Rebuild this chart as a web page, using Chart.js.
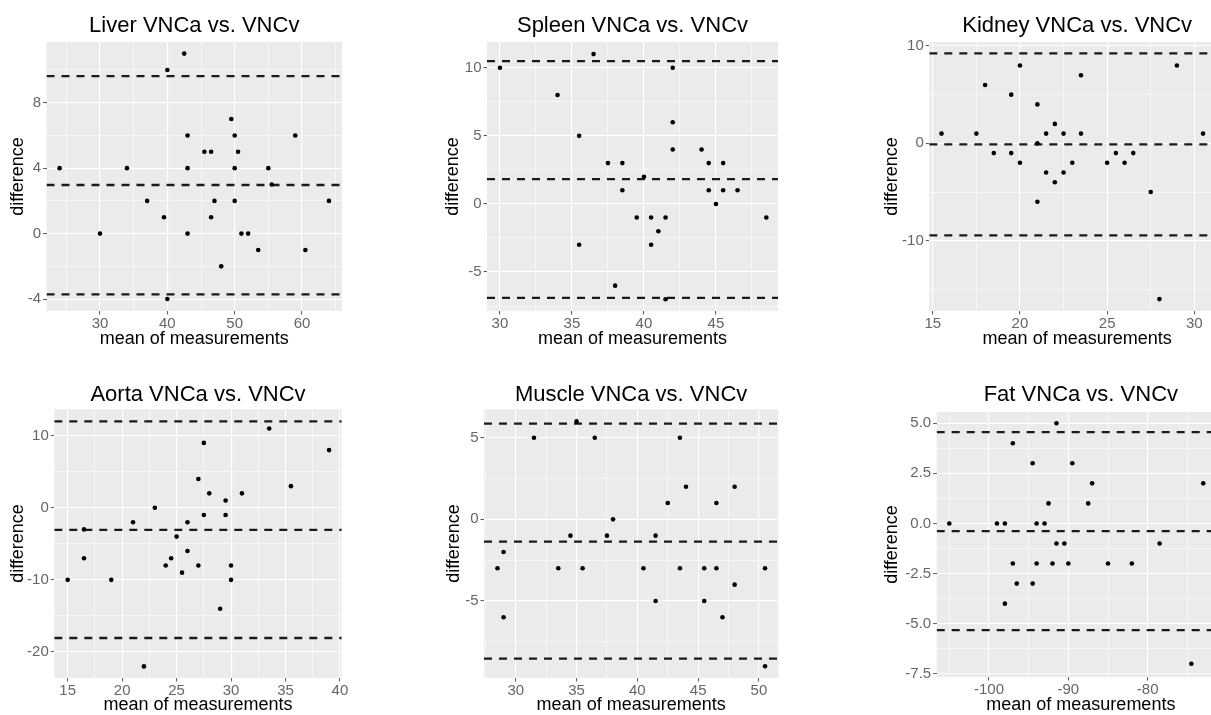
<!DOCTYPE html>
<html><head><meta charset="utf-8">
<script src="https://cdn.jsdelivr.net/npm/chart.js@4.4.1/dist/chart.umd.min.js"></script>
<style>
html,body{margin:0;padding:0;background:#fff;overflow:hidden;width:1211px;height:715px;position:relative;}
canvas{position:absolute;}
</style></head><body>
<canvas id="c1"></canvas><canvas id="c2"></canvas><canvas id="c3"></canvas>
<canvas id="c4"></canvas><canvas id="c5"></canvas><canvas id="c6"></canvas>
<script>
// ---------- data ----------
const liverX = [24,30,34,37,39.5,40,40,42.5,43,43,43,45.5,46.5,46.5,47,48,49.5,50,50,50,50.5,51,52,53.5,55,55.5,59,60.5,64];
const liverY = [4,0,4,2,1,10,-4,11,6,4,0,5,5,1,2,-2,7,6,4,2,5,0,0,-1,4,3,6,-1,2];
const liverLines = [9.63, 2.97, -3.71];
const liverXTicks = [30,40,50,60];
const liverYTicks = [-4,0,4,8];

const spleenX = [30,34,35.5,35.5,36.5,37.5,38,38.5,38.5,39.5,40,40.5,40.5,41,41.5,41.5,42,42,42,44,44.5,44.5,45,45.5,45.5,46.5,48.5];
const spleenY = [10,8,5,-3,11,3,-6,3,1,-1,2,-1,-3,-2,-1,-7,10,6,4,4,3,1,0,3,1,1,-1];
const spleenLines = [10.49, 1.82, -6.89];
const spleenXTicks = [30,35,40,45];
const spleenYTicks = [-5,0,5,10];

const kidneyX = [15.5,17.5,18,18.5,19.5,19.5,20,20,21,21,21,21.5,21.5,22,22,22.5,22.5,23,23.5,23.5,25,25.5,26,26.5,27.5,28,29,30.5];
const kidneyY = [1,1,6,-1,5,-1,8,-2,4,0,-6,1,-3,2,-4,1,-3,-2,7,1,-2,-1,-2,-1,-5,-16,8,1];
const kidneyLines = [9.25, -0.1, -9.45];
const kidneyXTicks = [15,20,25,30];
const kidneyYTicks = [-10,0,10];

const aortaX = [15,16.5,16.5,19,21,22,23,24,24.5,25,25.5,26,26,27,27,27.5,27.5,28,29,29.5,29.5,30,30,31,33.5,35.5,39];
const aortaY = [-10,-3,-7,-10,-2,-22,0,-8,-7,-4,-9,-2,-6,4,-8,9,-1,2,-14,1,-1,-8,-10,2,11,3,8];
const aortaLines = [11.99, -3.06, -18.06];
const aortaXTicks = [15,20,25,30,35,40];
const aortaYTicks = [-20,-10,0,10];

const muscleX = [28.5,29,29,31.5,33.5,34.5,35,35.5,36.5,37.5,38,40.5,41.5,41.5,42.5,43.5,43.5,44,45.5,45.5,46.5,46.5,47,48,48,50.5,50.5];
const muscleY = [-3,-2,-6,5,-3,-1,6,-3,5,-1,0,-3,-1,-5,1,5,-3,2,-3,-5,1,-3,-6,2,-4,-3,-9];
const muscleLines = [5.86, -1.37, -8.53];
const muscleXTicks = [30,35,40,45,50];
const muscleYTicks = [-5,0,5];

const fatX = [-105,-99,-98,-98,-97,-97,-96.5,-94.5,-94.5,-94,-94,-93,-92.5,-92,-91.5,-91.5,-90.5,-90,-89.5,-87.5,-87,-85,-82,-78.5,-74.5,-73];
const fatY = [0,0,0,-4,4,-2,-3,3,-3,0,-2,0,1,-2,5,-1,-1,-2,3,1,2,-2,-2,-1,-7,2];
const fatLines = [4.56, -0.38, -5.32];
const fatXTicks = [-100,-90,-80];
const fatYTicks = [-7.5,-5,-2.5,0,2.5,5];

const titles = ['Liver VNCa vs. VNCv','Spleen VNCa vs. VNCv','Kidney VNCa vs. VNCv','Aorta VNCa vs. VNCv','Muscle VNCa vs. VNCv','Fat VNCa vs. VNCv'];

// ---------- layout (pixels) ----------
const panels = [
 {id:'c1', title:titles[0], xs:liverX, ys:liverY, lines:liverLines, xt:liverXTicks, yt:liverYTicks, xr:[22.05,65.94], yr:[-4.73,11.71], dec:0,
  left:0, top:0, w:354, h:350, padR:12, yw:46.5, yTitlePad:7, plotTop:42, plotBottom:311, titlePadTop:13.2, xTitlePadB:0.5},
 {id:'c2', title:titles[1], xs:spleenX, ys:spleenY, lines:spleenLines, xt:spleenXTicks, yt:spleenYTicks, xr:[29.10,49.31], yr:[-7.86,11.89], dec:0,
  left:440, top:0, w:350, h:350, padR:12, yw:47, yTitlePad:2.5, plotTop:42, plotBottom:311, titlePadTop:13.2, xTitlePadB:0.5},
 {id:'c3', title:titles[2], xs:kidneyX, ys:kidneyY, lines:kidneyLines, xt:kidneyXTicks, yt:kidneyYTicks, xr:[14.8,31.76], yr:[-17.22,10.41], dec:0,
  left:870, top:0, w:367, h:350, padR:12, yw:59.3, yTitlePad:10.9, plotTop:42, plotBottom:311, titlePadTop:13.2, xTitlePadB:0.5},
 {id:'c4', title:titles[3], xs:aortaX, ys:aortaY, lines:aortaLines, xt:aortaXTicks, yt:aortaYTicks, xr:[13.77,40.16], yr:[-23.61,13.70], dec:0,
  left:0, top:367, w:354, h:348, padR:12.3, yw:54.3, yTitlePad:7.5, plotTop:42, plotBottom:311, titlePadTop:14.3, xTitlePadB:-1},
 {id:'c5', title:titles[4], xs:muscleX, ys:muscleY, lines:muscleLines, xt:muscleXTicks, yt:muscleYTicks, xr:[27.39,51.59], yr:[-9.72,6.76], dec:0,
  left:440, top:367, w:351, h:348, padR:12.7, yw:44, yTitlePad:3.5, plotTop:42, plotBottom:311, titlePadTop:14.3, xTitlePadB:-1},
 {id:'c6', title:titles[5], xs:fatX, ys:fatY, lines:fatLines, xt:fatXTicks, yt:fatYTicks, xr:[-106.59,-70.26], yr:[-7.66,5.56], dec:1,
  left:870, top:367, w:367, h:348, padR:12, yw:66.7, yTitlePad:10.9, plotTop:45, plotBottom:310, titlePadTop:14.6, xTitlePadB:-1}
];

Chart.defaults.font.family = "'Liberation Sans', Arial, Helvetica, sans-serif";
Chart.defaults.animation = false;

const bgPlugin = {
  id: 'panelBg',
  beforeDraw(chart) {
    const a = chart.chartArea, ctx = chart.ctx;
    ctx.save();
    ctx.fillStyle = '#EBEBEB';
    ctx.fillRect(a.left, a.top, a.right - a.left, a.bottom - a.top);
    ctx.restore();
  }
};

function buildTicks(majors, min, max) {
  const step = majors[1] - majors[0];
  const ext = [majors[0] - step, ...majors, majors[majors.length - 1] + step];
  const vals = majors.slice();
  for (let i = 0; i < ext.length - 1; i++) vals.push((ext[i] + ext[i + 1]) / 2);
  return vals.filter(v => v >= min && v <= max).sort((a, b) => a - b).map(v => ({value: v}));
}
const isMajor = (majors, v) => majors.some(m => Math.abs(m - v) < 1e-9);

function axis(p, horiz) {
  const majors = horiz ? p.xt : p.yt;
  const r = horiz ? p.xr : p.yr;
  return {
    type: 'linear',
    position: horiz ? 'bottom' : 'left',
    min: r[0], max: r[1],
    afterBuildTicks: s => { s.ticks = buildTicks(majors, r[0], r[1]); },
    afterFit: s => {
      if (horiz) s.height = p.h - p.plotBottom;
      else s.width = p.yw;
    },
    border: {display: false},
    grid: {
      color: '#FFFFFF',
      lineWidth: c => (c.tick && isMajor(majors, c.tick.value)) ? 1.1 : 0.55,
      drawTicks: true,
      tickLength: 3.5,
      tickWidth: 1,
      tickColor: c => (c.tick && isMajor(majors, c.tick.value)) ? '#555555' : 'rgba(0,0,0,0)'
    },
    ticks: {
      autoSkip: false,
      maxRotation: 0, minRotation: 0,
      padding: horiz ? 0 : 2,
      color: '#666666',
      font: {size: 15},
      callback: v => isMajor(majors, v) ? ((p.dec && !horiz) ? v.toFixed(1) : String(v)) : ''
    },
    title: {
      display: true,
      text: horiz ? 'mean of measurements' : 'difference',
      color: '#000000',
      font: {size: 18, lineHeight: 1.2},
      padding: horiz ? {top: 0, bottom: p.xTitlePadB} : {top: p.yTitlePad, bottom: 0}
    }
  };
}

panels.forEach(p => {
  const cv = document.getElementById(p.id);
  cv.width = p.w; cv.height = p.h;
  cv.style.left = p.left + 'px'; cv.style.top = p.top + 'px';
  cv.style.width = p.w + 'px'; cv.style.height = p.h + 'px';
  const datasets = [{
    label: 'points',
    data: p.xs.map((x, i) => ({x: x, y: p.ys[i]})),
    backgroundColor: '#000000',
    borderColor: '#000000',
    pointRadius: 2.3,
    pointBorderWidth: 0,
    showLine: false
  }];
  p.lines.forEach((v, k) => {
    datasets.push({
      label: 'line' + k,
      data: [{x: p.xr[0], y: v}, {x: p.xr[1], y: v}],
      showLine: true,
      borderColor: '#1a1a1a',
      borderWidth: 2.3,
      borderDash: [8, 7],
      pointRadius: 0,
      fill: false
    });
  });
  new Chart(cv, {
    type: 'scatter',
    data: {datasets},
    options: {
      responsive: false,
      animation: false,
      devicePixelRatio: 1,
      layout: {padding: {left: 0, top: 0, right: p.padR, bottom: 0}},
      plugins: {
        legend: {display: false},
        tooltip: {enabled: false},
        title: {
          display: true,
          text: p.title,
          fullSize: false,
          color: '#000000',
          font: {size: 22, weight: 'normal', lineHeight: 1.2},
          padding: {top: p.titlePadTop, bottom: p.plotTop - p.titlePadTop - 26.4}
        }
      },
      scales: {x: axis(p, true), y: axis(p, false)}
    },
    plugins: [bgPlugin]
  });
});
</script>
</body></html>
